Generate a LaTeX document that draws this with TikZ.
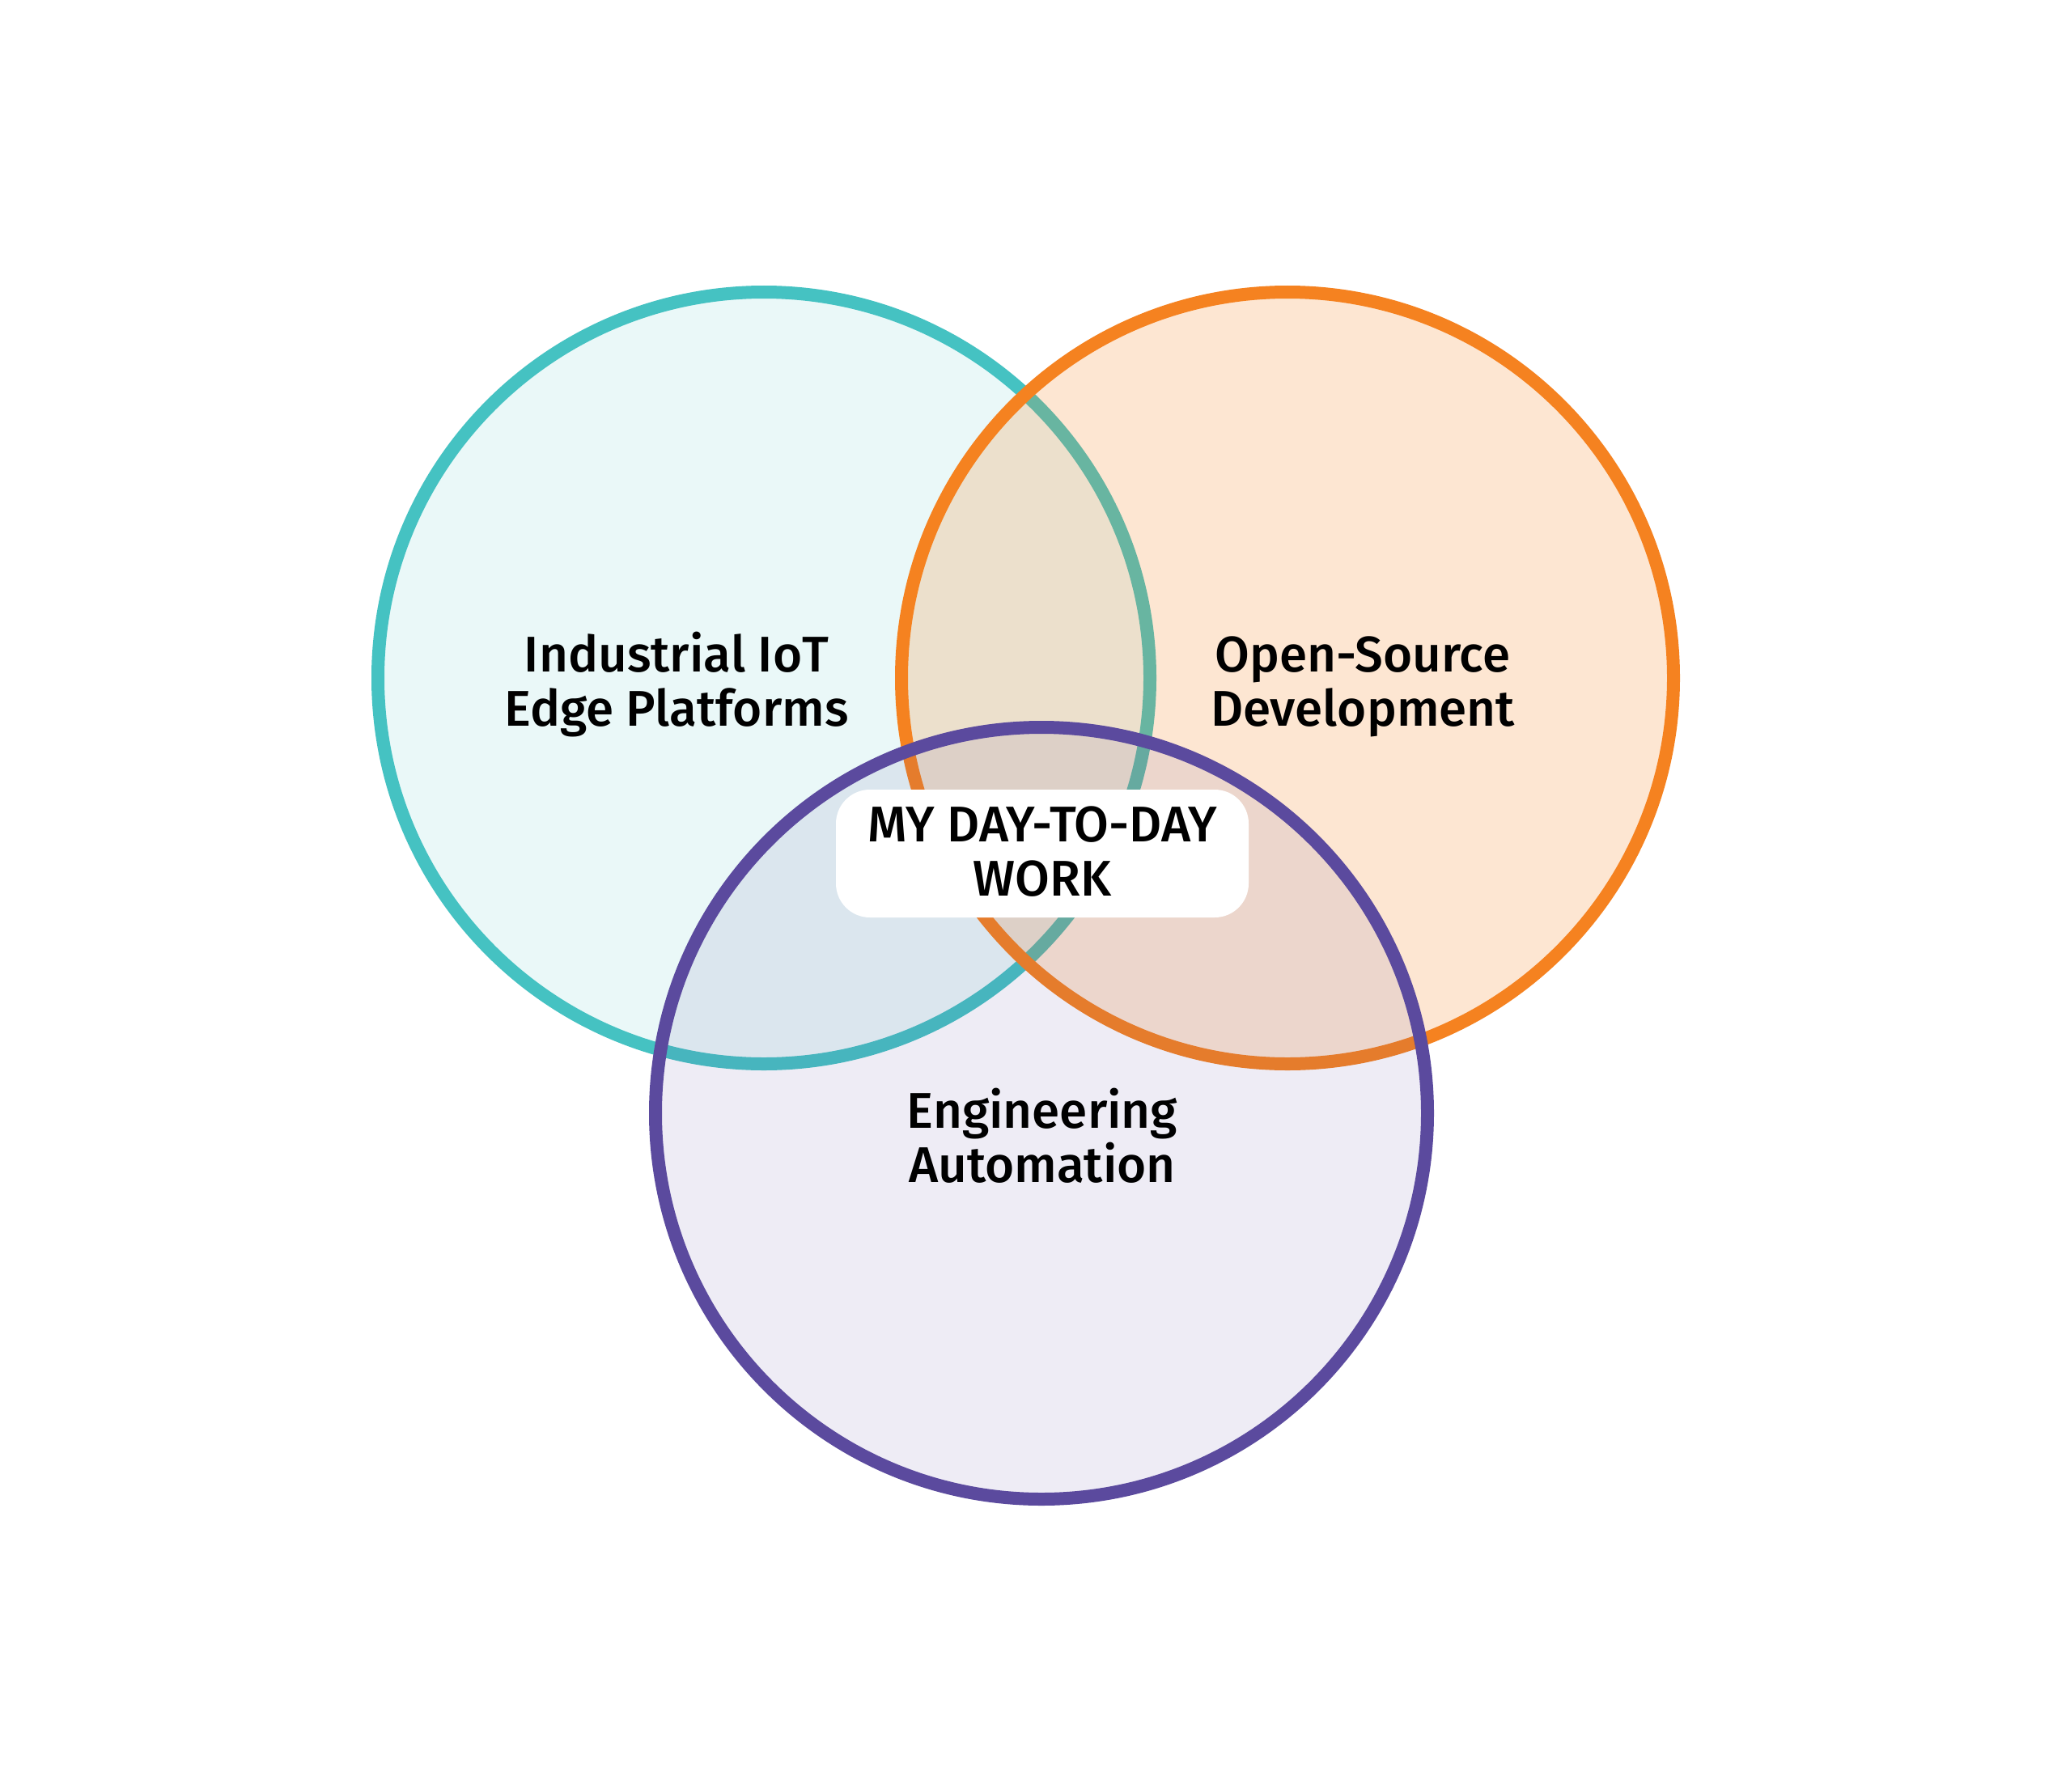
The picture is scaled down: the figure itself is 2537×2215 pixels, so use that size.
\documentclass[tikz,border=0pt]{standalone}
\usepackage{fontspec}
\newfontfamily\lblfont{Fira Sans}[UprightFont=* Medium]
\definecolor{tealc}{HTML}{45C2C2}
\definecolor{orangec}{HTML}{F58220}
\definecolor{purplec}{HTML}{5B4A9E}
\begin{document}
\begin{tikzpicture}[x=1pt,y=-1pt,
  ring/.style={line width=16pt},
  lbl/.style={inner sep=0pt,anchor=base,align=center,
    font=\lblfont\fontsize{62}{67}\selectfont}]
\useasboundingbox (0,0) rectangle (2537,2215);
\fill[white] (0,0) rectangle (2537,2215);
% circles
\fill[tealc,fill opacity=0.11] (944,838) circle[radius=477];
\draw[ring,tealc] (944,838) circle[radius=477];
\fill[orangec,fill opacity=0.2] (1591,838) circle[radius=477];
\draw[ring,orangec] (1591,838) circle[radius=477];
\fill[purplec,fill opacity=0.1] (1287,1376) circle[radius=477];
\draw[ring,purplec] (1287,1376) circle[radius=477];
% labels
\node[lbl] (iot) at (836,897) {Industrial IoT\\Edge Platforms};
\node[lbl] (oss) at (1684,897) {Open-Source\\Development};
\node[lbl] (eng) at (1288,1461) {Engineering\\Automation};
\fill[white,rounded corners=42pt] (1033,976) rectangle (1543,1134);
\node[lbl] (work) at (1288,1107) {MY DAY-TO-DAY\\WORK};
\end{tikzpicture}
\end{document}
